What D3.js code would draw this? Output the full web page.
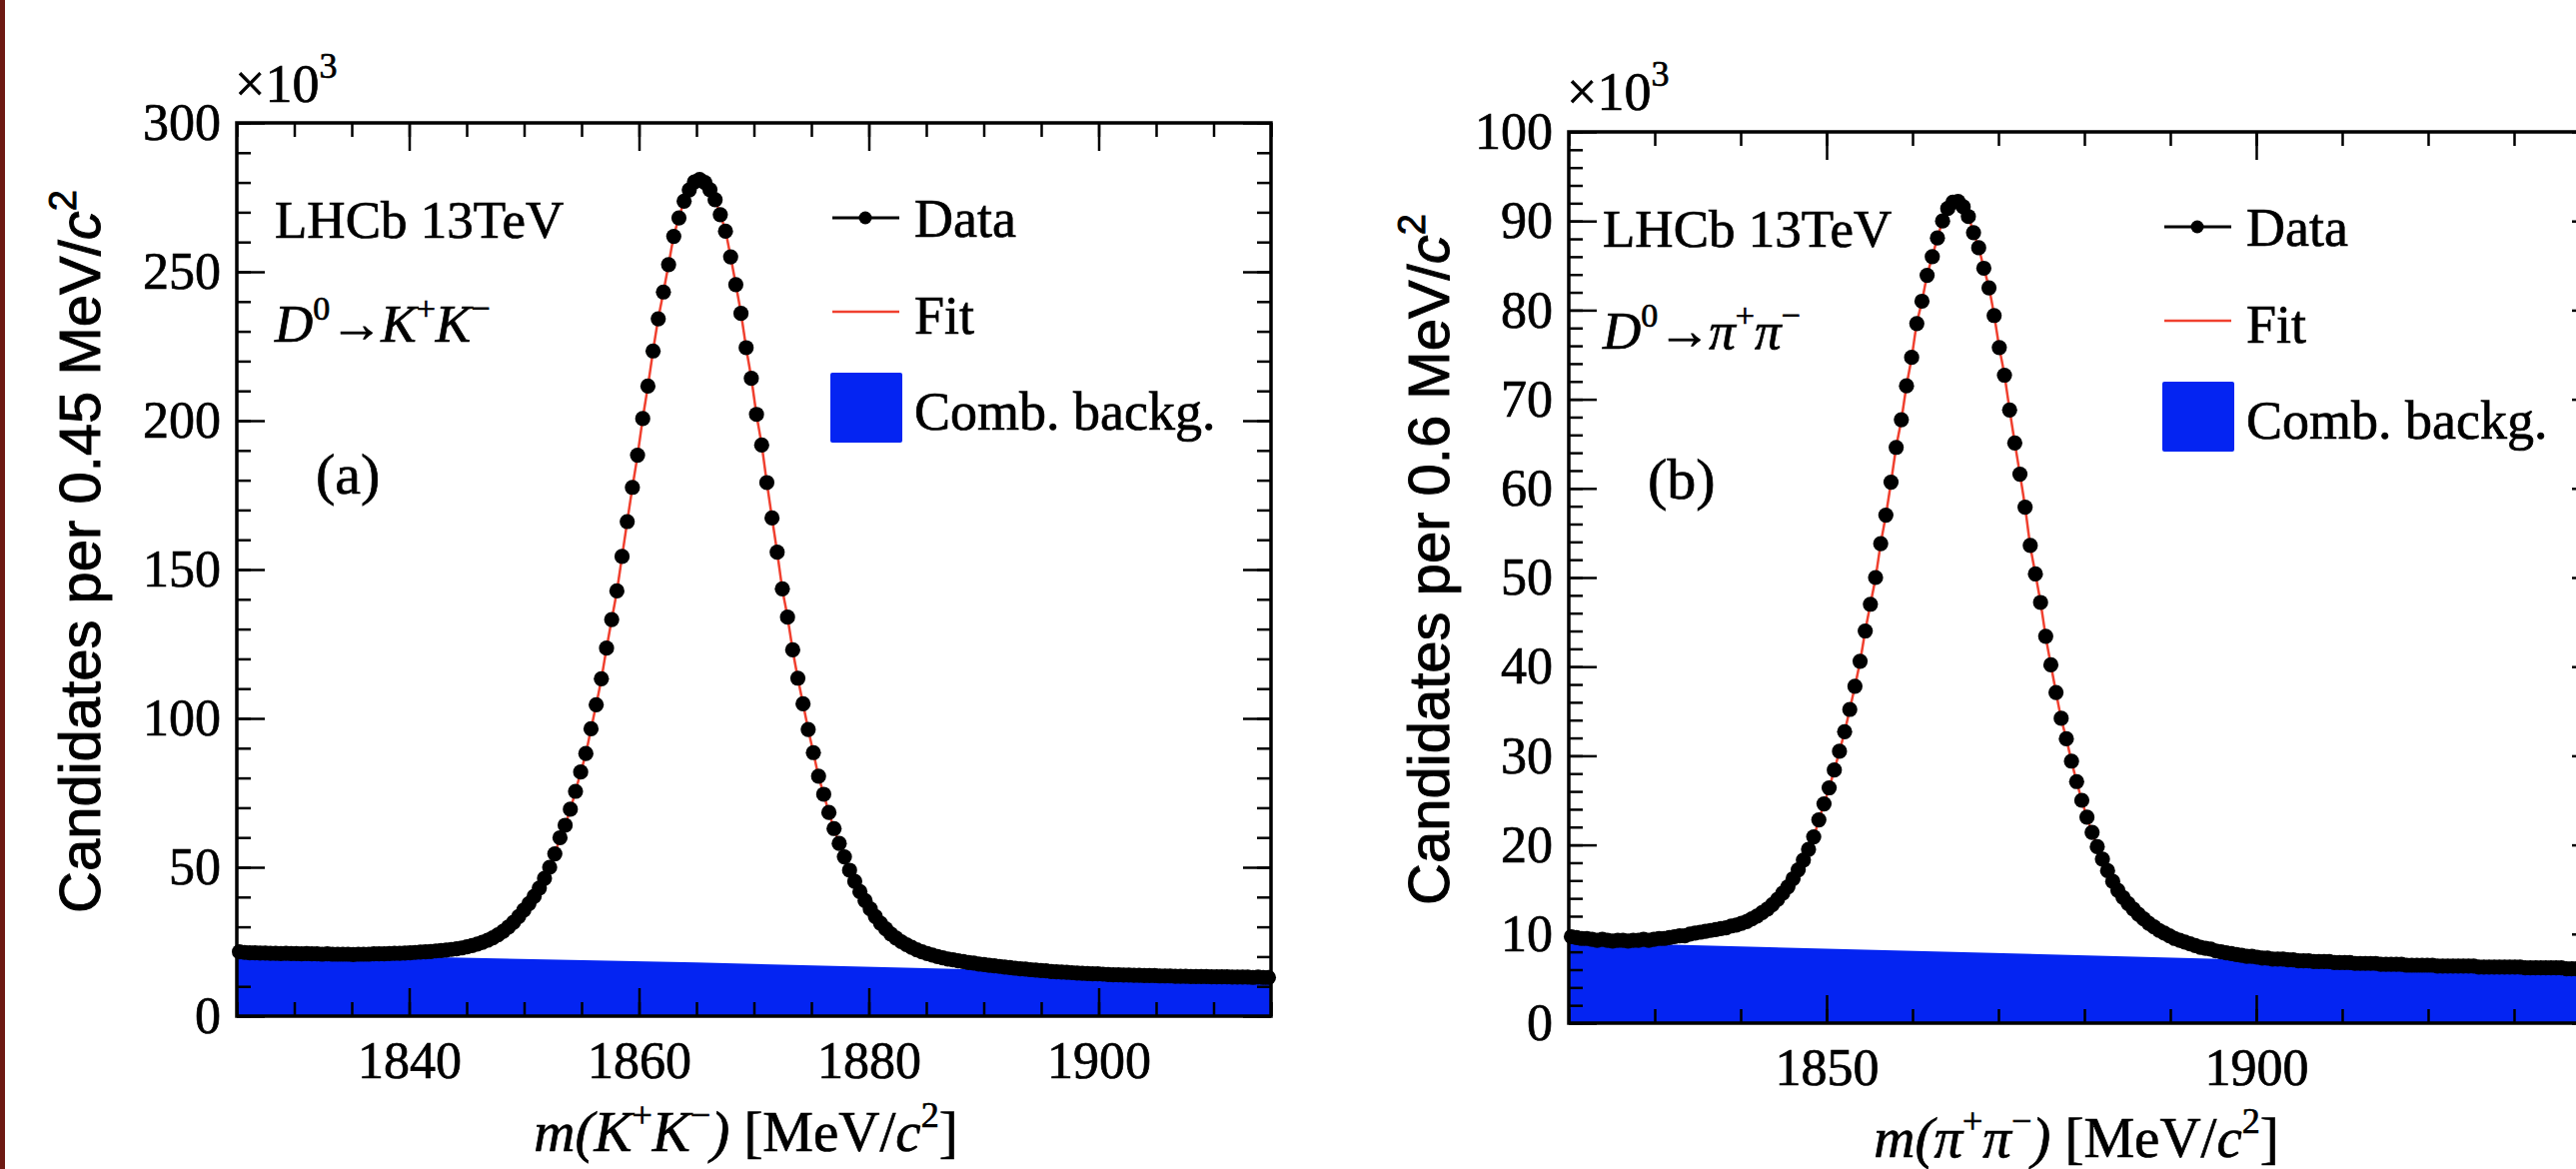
<!DOCTYPE html>
<html>
<head>
<meta charset="utf-8">
<script src="https://cdn.jsdelivr.net/npm/d3@7"></script>
<style>
body { margin: 0; background: #fff; overflow: hidden; }
text { stroke: #000; stroke-width: 0.7px; }
</style>
</head>
<body>
<svg id="fig" width="2578" height="1170"></svg>
<script>
// ---- data (counts in units of 10^3 candidates per bin) ----

// D0 -> K+K-, 200 bins of 0.45 MeV from 1825
var binStartA = 1825, binWidthA = 0.45;
var countsA = [
  21.6, 21.4, 21.3, 21.3, 21.2, 21.2, 21.1, 21.1, 21.0, 21.1,
  21.0, 21.0, 20.9, 21.0, 20.9, 20.9, 20.8, 20.9, 20.8, 20.8,
  20.8, 20.8, 20.7, 20.8, 20.8, 20.8, 20.9, 20.9, 20.9, 21.0,
  21.1, 21.1, 21.2, 21.3, 21.4, 21.5, 21.6, 21.7, 21.9, 22.0,
  22.2, 22.4, 22.6, 22.9, 23.3, 23.7, 24.2, 24.8, 25.5, 26.3,
  27.3, 28.5, 29.9, 31.5, 33.4, 35.6, 37.8, 40.2, 43.0, 46.3,
  50.0, 54.5, 59.9, 64.1, 69.5, 75.5, 82.0, 88.2, 96.5, 104.6,
  113.3, 123.6, 133.2, 142.8, 154.4, 166.1, 177.6, 188.4, 200.7, 211.6,
  223.4, 234.2, 243.2, 252.4, 261.9, 268.1, 273.7, 277.5, 280.2, 281.0,
  280.0, 277.6, 274.2, 269.2, 263.6, 255.0, 245.7, 236.0, 224.5, 214.2,
  202.1, 191.8, 179.2, 167.3, 155.8, 143.5, 134.0, 123.0, 113.5, 104.9,
  96.3, 88.5, 80.6, 74.5, 68.4, 63.0, 58.0, 53.5, 49.0, 45.3,
  41.8, 38.8, 36.0, 33.4, 31.2, 29.3, 27.6, 26.2, 25.0, 24.0,
  23.1, 22.3, 21.6, 21.0, 20.5, 20.0, 19.6, 19.2, 18.9, 18.6,
  18.3, 18.0, 17.8, 17.5, 17.3, 17.1, 16.9, 16.7, 16.5, 16.3,
  16.1, 15.9, 15.8, 15.6, 15.5, 15.3, 15.2, 15.0, 14.9, 14.8,
  14.7, 14.6, 14.5, 14.4, 14.3, 14.2, 14.2, 14.1, 14.0, 13.9,
  13.9, 13.8, 13.8, 13.7, 13.7, 13.6, 13.6, 13.6, 13.5, 13.5,
  13.5, 13.4, 13.4, 13.4, 13.3, 13.3, 13.3, 13.3, 13.2, 13.2,
  13.2, 13.2, 13.1, 13.1, 13.1, 13.1, 13.0, 13.1, 13.0, 13.0
];
var bkgMassA = [1825, 1865, 1915];
var bkgA = [21.2, 18.0, 13.2];

// D0 -> pi+pi-, 200 bins of 0.6 MeV from 1820
var binStartB = 1820, binWidthB = 0.6;
var countsB = [
  9.7, 9.6, 9.5, 9.5, 9.4, 9.3, 9.4, 9.3, 9.2, 9.3,
  9.3, 9.2, 9.3, 9.3, 9.4, 9.3, 9.4, 9.5, 9.5, 9.6,
  9.7, 9.8, 9.8, 10.0, 10.1, 10.2, 10.3, 10.4, 10.5, 10.6,
  10.7, 10.9, 11.0, 11.2, 11.4, 11.7, 12.0, 12.4, 12.8, 13.3,
  13.9, 14.6, 15.3, 16.2, 17.2, 18.3, 19.5, 20.9, 22.8, 24.6,
  26.4, 28.4, 30.5, 32.7, 35.2, 37.8, 40.6, 44.0, 47.0, 50.0,
  53.8, 57.0, 60.7, 64.6, 67.7, 71.5, 74.7, 78.5, 81.0, 83.9,
  86.0, 88.1, 90.0, 91.4, 92.1, 92.2, 91.6, 90.5, 88.7, 87.0,
  84.7, 82.5, 79.4, 75.8, 72.7, 68.8, 65.1, 61.6, 57.9, 53.6,
  50.4, 47.2, 43.4, 40.2, 37.1, 34.2, 31.9, 29.4, 27.1, 25.0,
  23.1, 21.4, 19.8, 18.4, 17.1, 15.9, 14.9, 14.1, 13.4, 12.8,
  12.2, 11.7, 11.2, 10.8, 10.4, 10.1, 9.8, 9.5, 9.3, 9.1,
  8.9, 8.7, 8.5, 8.4, 8.3, 8.1, 8.0, 7.9, 7.8, 7.7,
  7.6, 7.5, 7.5, 7.4, 7.3, 7.3, 7.2, 7.2, 7.2, 7.1,
  7.1, 7.0, 7.0, 7.0, 6.9, 6.9, 6.9, 6.9, 6.8, 6.8,
  6.8, 6.8, 6.7, 6.7, 6.7, 6.7, 6.7, 6.6, 6.6, 6.6,
  6.6, 6.6, 6.5, 6.5, 6.5, 6.5, 6.5, 6.5, 6.4, 6.4,
  6.4, 6.4, 6.4, 6.4, 6.4, 6.4, 6.3, 6.3, 6.3, 6.3,
  6.3, 6.3, 6.3, 6.3, 6.3, 6.2, 6.2, 6.2, 6.2, 6.2,
  6.2, 6.2, 6.2, 6.1, 6.1, 6.1, 6.1, 6.1, 6.1, 6.1
];
var bkgMassB = [1820, 1940];
var bkgB = [9.1, 6.1];

var xTicksA = [1840, 1860, 1880, 1900];
var yTicksA = [0, 50, 100, 150, 200, 250, 300];
var xTicksB = [1850, 1900];
var yTicksB = [0, 10, 20, 30, 40, 50, 60, 70, 80, 90, 100];

var blue = '#0424f2', red = '#f0402f';
var serif = 'Liberation Serif, Times New Roman, serif';
var sans = 'Liberation Sans, Arial, sans-serif';

var svg = d3.select('#fig');
svg.append('rect').attr('width', 2578).attr('height', 1170).attr('fill', '#fff');
svg.append('rect').attr('x', 0).attr('y', 0).attr('width', 5).attr('height', 1170).attr('fill', '#6e1a13');

var panels = [
  { id: 'a', counts: countsA, start: binStartA, width: binWidthA,
    bkgM: bkgMassA, bkg: bkgA, xDom: [1825, 1915], yMax: 300,
    xMajor: xTicksA, xMinorStep: 5, yMajor: yTicksA, yMinorStep: 10,
    left: 237, right: 1272, top: 123, bottom: 1017,
    ytitle: 'Candidates per 0.45 MeV/', yTitleX: 100, yTitleY: 552,
    decay: ['K', 'K'], xTitleY: 1152 },
  { id: 'b', counts: countsB, start: binStartB, width: binWidthB,
    bkgM: bkgMassB, bkg: bkgB, xDom: [1820, 1940], yMax: 100,
    xMajor: xTicksB, xMinorStep: 10, yMajor: yTicksB, yMinorStep: 2,
    left: 1570, right: 2602, top: 132, bottom: 1024,
    ytitle: 'Candidates per 0.6 MeV/', yTitleX: 1450, yTitleY: 560,
    decay: ['\u03c0', '\u03c0'], xTitleY: 1158 }
];

function styleAxis(g) {
  g.select('.domain').remove();
  g.selectAll('.tick line').attr('stroke', '#000').attr('stroke-width', 2.5);
  g.selectAll('.tick text').attr('font-family', serif).attr('font-size', 52).attr('fill', '#000');
}

function drawPanel(p) {
  var x = d3.scaleLinear().domain(p.xDom).range([p.left, p.right]);
  var y = d3.scaleLinear().domain([0, p.yMax]).range([p.bottom, p.top]);
  var g = svg.append('g').attr('class', 'panel-' + p.id);

  g.append('clipPath').attr('id', 'clip-' + p.id)
    .append('rect').attr('x', p.left).attr('y', p.top)
    .attr('width', p.right - p.left).attr('height', p.bottom - p.top);

  // combinatorial background
  var bk = p.bkgM.map(function(m, i) { return [m, p.bkg[i]]; });
  g.append('path').datum(bk)
    .attr('clip-path', 'url(#clip-' + p.id + ')')
    .attr('fill', blue)
    .attr('d', d3.area().x(function(d) { return x(d[0]); })
      .y0(y(0)).y1(function(d) { return y(d[1]); }));

  var pts = p.counts.map(function(c, i) { return [p.start + p.width * (i + 0.5), c]; });

  // axes (inward ticks)
  var xMinor = d3.range(p.xDom[0], p.xDom[1] + 0.001, p.xMinorStep);
  var yMinor = d3.range(0, p.yMax + 0.001, p.yMinorStep);
  var fmt = d3.format('d');

  g.append('g').attr('transform', 'translate(0,' + p.bottom + ')')
    .call(d3.axisBottom(x).tickValues(xMinor).tickSize(-14).tickSizeOuter(0).tickFormat('')).call(styleAxis);
  g.append('g').attr('transform', 'translate(0,' + p.bottom + ')')
    .call(d3.axisBottom(x).tickValues(p.xMajor).tickSize(-28).tickSizeOuter(0).tickPadding(25).tickFormat(fmt)).call(styleAxis);
  g.append('g').attr('transform', 'translate(0,' + p.top + ')')
    .call(d3.axisTop(x).tickValues(xMinor).tickSize(-14).tickSizeOuter(0).tickFormat('')).call(styleAxis);
  g.append('g').attr('transform', 'translate(0,' + p.top + ')')
    .call(d3.axisTop(x).tickValues(p.xMajor).tickSize(-28).tickSizeOuter(0).tickFormat('')).call(styleAxis);
  g.append('g').attr('transform', 'translate(' + p.left + ',0)')
    .call(d3.axisLeft(y).tickValues(yMinor).tickSize(-14).tickSizeOuter(0).tickFormat('')).call(styleAxis);
  g.append('g').attr('transform', 'translate(' + p.left + ',0)')
    .call(d3.axisLeft(y).tickValues(p.yMajor).tickSize(-28).tickSizeOuter(0).tickPadding(16).tickFormat(fmt)).call(styleAxis);
  g.append('g').attr('transform', 'translate(' + p.right + ',0)')
    .call(d3.axisRight(y).tickValues(yMinor).tickSize(-14).tickSizeOuter(0).tickFormat('')).call(styleAxis);
  g.append('g').attr('transform', 'translate(' + p.right + ',0)')
    .call(d3.axisRight(y).tickValues(p.yMajor).tickSize(-28).tickSizeOuter(0).tickFormat('')).call(styleAxis);

  // fit curve
  g.append('path').datum(pts)
    .attr('clip-path', 'url(#clip-' + p.id + ')')
    .attr('fill', 'none').attr('stroke', red).attr('stroke-width', 2.5)
    .attr('d', d3.line().curve(d3.curveMonotoneX)
      .x(function(d) { return x(d[0]); }).y(function(d) { return y(d[1]); }));

  // data points
  g.selectAll('circle.pt').data(pts).enter().append('circle')
    .attr('class', 'pt')
    .attr('cx', function(d) { return x(d[0]); })
    .attr('cy', function(d) { return y(d[1]); })
    .attr('r', 7.6).attr('fill', '#000');

  // frame
  g.append('rect').attr('x', p.left).attr('y', p.top)
    .attr('width', p.right - p.left).attr('height', p.bottom - p.top)
    .attr('fill', 'none').attr('stroke', '#000').attr('stroke-width', 3.5);

  var dx = p.left - 237, dy = p.top - 123;

  // x10^3
  var e = g.append('text').attr('x', p.left - 2).attr('y', 102 + dy * 0.9)
    .attr('font-family', serif).attr('font-size', 54);
  e.append('tspan').text('\u00d710');
  e.append('tspan').attr('font-size', 36).attr('dy', -24).text('3');

  // LHCb label and decay
  g.append('text').attr('x', 275 + dx - 4 * (p.id === 'b')).attr('y', 238 + dy)
    .attr('font-family', serif).attr('font-size', 53).text('LHCb 13TeV');
  var dcy = g.append('text').attr('x', 275 + dx - 4 * (p.id === 'b')).attr('y', 342 + dy * 0.8)
    .attr('font-family', serif).attr('font-size', 53);
  dcy.append('tspan').attr('font-style', 'italic').text('D');
  dcy.append('tspan').attr('font-size', 34).attr('dy', -22).text('0');
  dcy.append('tspan').attr('dy', 22).attr('letter-spacing', -2).text('\u2192');
  dcy.append('tspan').attr('font-style', 'italic').text(p.decay[0]);
  dcy.append('tspan').attr('font-size', 34).attr('dy', -22).text('+');
  dcy.append('tspan').attr('dy', 22).attr('font-style', 'italic').text(p.decay[1]);
  dcy.append('tspan').attr('font-size', 34).attr('dy', -22).text('\u2212');

  g.append('text').attr('x', 316 + dx).attr('y', 494 + dy * 0.6)
    .attr('font-family', serif).attr('font-size', 58).text('(' + p.id + ')');

  // legend
  var lx = 833 + dx, ly = 218 + dy;
  g.append('line').attr('x1', lx).attr('x2', lx + 67).attr('y1', ly).attr('y2', ly)
    .attr('stroke', '#000').attr('stroke-width', 3);
  g.append('circle').attr('cx', lx + 33).attr('cy', ly).attr('r', 6.5).attr('fill', '#000');
  g.append('text').attr('x', lx + 82).attr('y', ly + 19)
    .attr('font-family', serif).attr('font-size', 54).text('Data');
  g.append('line').attr('x1', lx).attr('x2', lx + 67).attr('y1', ly + 94).attr('y2', ly + 94)
    .attr('stroke', red).attr('stroke-width', 2.5);
  g.append('text').attr('x', lx + 82).attr('y', ly + 116)
    .attr('font-family', serif).attr('font-size', 54).text('Fit');
  g.append('rect').attr('x', lx - 2).attr('y', ly + 155).attr('width', 72).attr('height', 70)
    .attr('rx', 2).attr('fill', blue);
  g.append('text').attr('x', lx + 82).attr('y', ly + 212)
    .attr('font-family', serif).attr('font-size', 54).text('Comb. backg.');

  // y title (sans)
  var yt = g.append('text')
    .attr('transform', 'translate(' + p.yTitleX + ',' + p.yTitleY + ') rotate(-90)')
    .attr('text-anchor', 'middle').attr('font-family', sans).attr('font-size', 58)
    .style('stroke-width', '0.9px');
  yt.append('tspan').text(p.ytitle);
  yt.append('tspan').attr('font-style', 'italic').text('c');
  yt.append('tspan').attr('font-size', 38).attr('dy', -24).text('2');

  // x title (serif)
  var xt = g.append('text')
    .attr('x', (p.left + p.right) / 2 - 8).attr('y', p.xTitleY)
    .attr('text-anchor', 'middle').attr('font-family', serif).attr('font-size', 57);
  xt.append('tspan').attr('font-style', 'italic').text('m(' + p.decay[0]);
  xt.append('tspan').attr('font-size', 36).attr('dy', -24).text('+');
  xt.append('tspan').attr('font-style', 'italic').attr('dy', 24).text(p.decay[1]);
  xt.append('tspan').attr('font-size', 36).attr('dy', -24).text('\u2212');
  xt.append('tspan').attr('font-style', 'italic').attr('dy', 24).text(')');
  xt.append('tspan').text(' [MeV/');
  xt.append('tspan').attr('font-style', 'italic').text('c');
  xt.append('tspan').attr('font-size', 36).attr('dy', -24).text('2');
  xt.append('tspan').attr('dy', 24).text(']');
}

panels.forEach(drawPanel);
</script>
</body>
</html>
